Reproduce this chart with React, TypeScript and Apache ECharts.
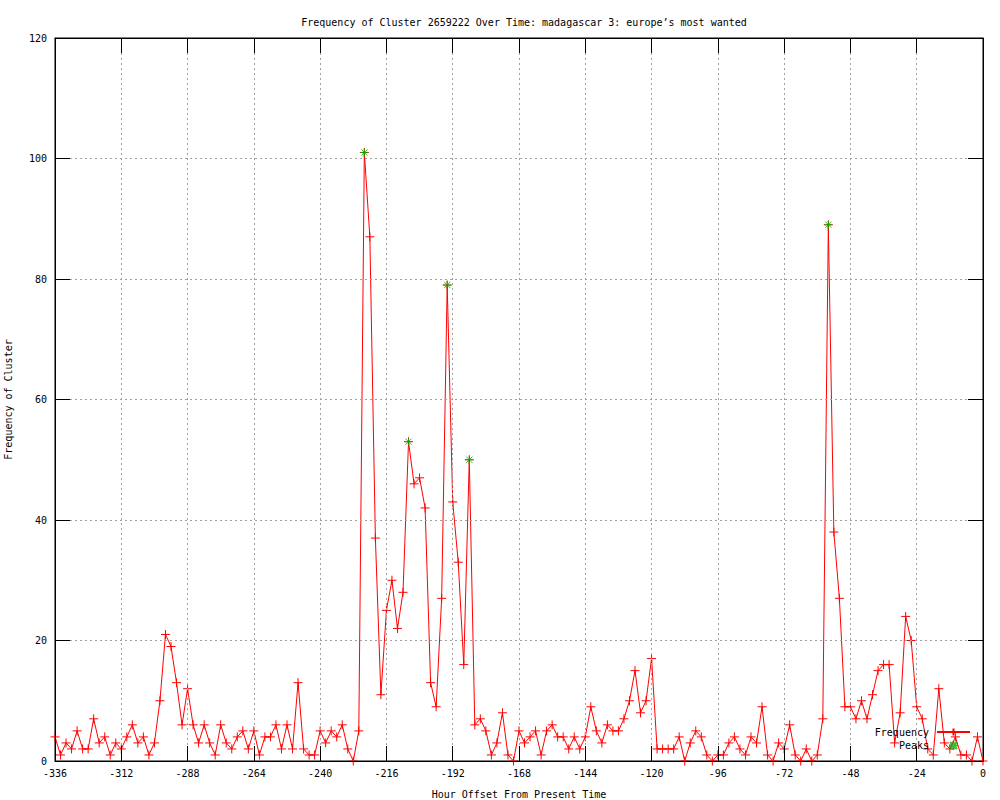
import React, { useEffect, useRef } from "react";
import * as echarts from "echarts";

const startHour = -336;
const stepHours = 2;
const frequency = [
  4, 1, 3, 2, 5, 2, 2, 7, 3, 4, 1, 3,
  2, 4, 6, 3, 4, 1, 3, 10, 21, 19, 13, 6,
  12, 6, 3, 6, 3, 1, 6, 3, 2, 4, 5, 2,
  5, 1, 4, 4, 6, 2, 6, 2, 13, 2, 1, 1,
  5, 3, 5, 4, 6, 2, 0, 5, 101, 87, 37, 11,
  25, 30, 22, 28, 53, 46, 47, 42, 13, 9, 27, 79,
  43, 33, 16, 50, 6, 7, 5, 1, 3, 8, 1, 0,
  5, 3, 4, 5, 1, 5, 6, 4, 4, 2, 4, 2,
  4, 9, 5, 3, 6, 5, 5, 7, 10, 15, 8, 10,
  17, 2, 2, 2, 2, 4, 0, 3, 5, 4, 1, 0,
  1, 1, 3, 4, 2, 1, 4, 3, 9, 1, 0, 3,
  2, 6, 1, 0, 2, 0, 1, 7, 89, 38, 27, 9,
  9, 7, 10, 7, 11, 15, 16, 16, 3, 8, 24, 20,
  9, 7, 2, 1, 12, 3, 2, 4, 1, 1, 0, 4,
  0,
];
const peakHours = [-224, -208, -194, -186, -56];
const peakValues = [101, 53, 79, 50, 89];

const FONT = "DejaVu Sans Mono";
const PLUS = "path://M0,4.5L9,4.5M4.5,0L4.5,9";
const STAR = "path://M0,4.5L9,4.5M4.5,0L4.5,9M1,1L8,8M1,8L8,1";

const tick = () => ({
  show: true,
  inside: true,
  length: 15,
  lineStyle: { color: "#000000", width: 1, type: "solid", opacity: 1 },
});
const axisLine = () => ({ show: true, onZero: false, lineStyle: { color: "#000", width: 1 } });

export default function App() {
  const ref = useRef<HTMLDivElement>(null);
  useEffect(() => {
    if (!ref.current) return;
    const chart = echarts.init(ref.current, null, { renderer: "svg" });
    const freqData = frequency.map((v, i) => [startHour + i * stepHours, v]);
    const peakData = peakHours.map((h, i) => [h, peakValues[i]]);
    const gridLine = {
      show: true,
      lineStyle: { color: "#a0a0a0", type: [2, 3], width: 1 },
    };
    chart.setOption({
      animation: false,
      backgroundColor: "#fff",
      textStyle: { fontFamily: FONT },
      title: {
        text: "Frequency of Cluster 2659222 Over Time: madagascar 3: europe\u2019s most wanted",
        left: 519,
        textAlign: "center",
        top: 12,
        textStyle: { fontFamily: FONT, fontSize: 10, fontWeight: "normal", color: "#000" },
      },
      grid: {
        left: 55,
        right: 17,
        top: 38,
        bottom: 39,
        containLabel: false,
        outerBoundsMode: "none",
        show: true,
        borderColor: "#000",
        borderWidth: 1,
        backgroundColor: "transparent",
      },
      legend: {
        orient: "vertical",
        right: 24,
        bottom: 44,
        align: "right",
        itemWidth: 33,
        itemHeight: 9,
        itemGap: 3,
        textStyle: { fontFamily: FONT, fontSize: 10, color: "#000", padding: [0, 3, 0, 0] },
        data: ["Frequency", "Peaks"],
      },
      xAxis: [
        {
          type: "value",
          min: -336,
          max: 0,
          interval: 24,
          name: "Hour Offset From Present Time",
          nameLocation: "middle",
          nameGap: 28,
          nameTextStyle: { fontFamily: FONT, fontSize: 10, color: "#000" },
          axisLine: axisLine(),
          axisTick: tick(),
          axisLabel: { fontFamily: FONT, fontSize: 10, color: "#000", margin: 7 },
          splitLine: gridLine,
          z: 5,
        },
        {
          type: "value",
          position: "top",
          min: -336,
          max: 0,
          interval: 24,
          axisLine: axisLine(),
          axisTick: tick(),
          axisLabel: { show: false },
          splitLine: { show: false },
          z: 5,
        },
      ],
      yAxis: [
        {
          type: "value",
          min: 0,
          max: 120,
          interval: 20,
          name: "Frequency of Cluster",
          nameLocation: "middle",
          nameRotate: 90,
          nameGap: 42,
          nameTextStyle: { fontFamily: FONT, fontSize: 10, color: "#000" },
          axisLine: axisLine(),
          axisTick: tick(),
          axisLabel: { fontFamily: FONT, fontSize: 10, color: "#000", margin: 8 },
          splitLine: gridLine,
          z: 5,
        },
        {
          type: "value",
          position: "right",
          min: 0,
          max: 120,
          interval: 20,
          axisLine: axisLine(),
          axisTick: tick(),
          axisLabel: { show: false },
          splitLine: { show: false },
          z: 5,
        },
      ],
      series: [
        {
          name: "Frequency",
          type: "line",
          data: freqData,
          symbol: PLUS,
          symbolSize: 9,
          showAllSymbol: true,
          lineStyle: { color: "#ff0000", width: 1 },
          itemStyle: { color: "#ff0000", borderColor: "#ff0000", borderWidth: 1 },
          emphasis: { disabled: true },
        },
        {
          name: "Peaks",
          type: "scatter",
          data: peakData,
          symbol: STAR,
          symbolSize: 8,
          itemStyle: { color: "#00b000", borderColor: "#00b000", borderWidth: 1 },
          emphasis: { disabled: true },
          z: 3,
        },
      ],
    });
    return () => chart.dispose();
  }, []);
  return (
    <div
      ref={ref}
      style={{ position: "fixed", left: 0, top: 0, width: 1000, height: 800, background: "#fff" }}
    />
  );
}
